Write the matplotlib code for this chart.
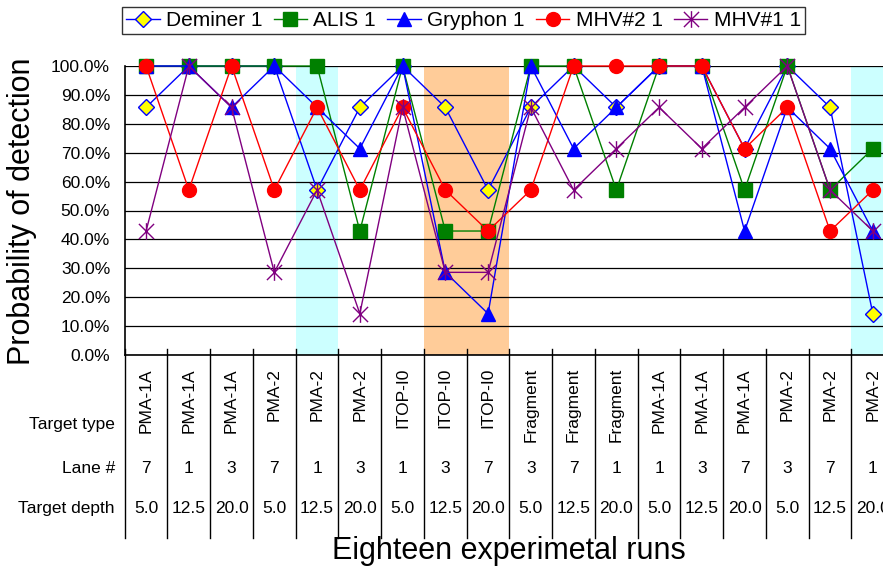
import numpy as np
import matplotlib
matplotlib.use("Agg")
import matplotlib.pyplot as plt
import matplotlib.transforms as mtransforms
from matplotlib.path import Path
from matplotlib.lines import Line2D

plt.rcParams['font.family'] = ['Liberation Sans', 'DejaVu Sans']

# probability of detection (%) for each of the 18 runs
deminer = [85.7, 100, 100, 100, 57.1, 85.7, 100, 85.7, 57.1, 85.7, 100, 85.7, 100, 100, 71.4, 100, 85.7, 14.3]
alis = [100, 100, 100, 100, 100, 42.9, 100, 42.9, 42.9, 100, 100, 57.1, 100, 100, 57.1, 100, 57.1, 71.4]
gryphon = [100, 100, 85.7, 100, 85.7, 71.4, 100, 28.6, 14.3, 100, 71.4, 85.7, 100, 100, 42.9, 85.7, 71.4, 42.9]
mhv2 = [100, 57.1, 100, 57.1, 85.7, 57.1, 85.7, 57.1, 42.9, 57.1, 100, 100, 100, 100, 71.4, 85.7, 42.9, 57.1]
mhv1 = [42.9, 100, 85.7, 28.6, 57.1, 14.3, 85.7, 28.6, 28.6, 85.7, 57.1, 71.4, 85.7, 71.4, 85.7, 100, 57.1, 42.9]

target_type = ["PMA-1A", "PMA-1A", "PMA-1A", "PMA-2", "PMA-2", "PMA-2",
               "ITOP-I0", "ITOP-I0", "ITOP-I0", "Fragment", "Fragment", "Fragment",
               "PMA-1A", "PMA-1A", "PMA-1A", "PMA-2", "PMA-2", "PMA-2"]
lane = ["7", "1", "3", "7", "1", "3", "1", "3", "7", "3", "7", "1", "1", "3", "7", "3", "7", "1"]
depth = ["5.0", "12.5", "20.0"] * 6

cyan_runs = [5, 18]
orange_runs = [8, 9]

W, H = 883, 572
fig = plt.figure(figsize=(W / 100, H / 100), dpi=100)
ax = fig.add_axes([124.7 / W, 1 - 355 / H, 769.5 / W, 289 / H])

x = np.arange(len(deminer)) + 0.5

for r in cyan_runs:
    ax.axvspan(r - 1, r, color='#CCFFFF', lw=0, zorder=0)
for r in orange_runs:
    ax.axvspan(r - 1, r, color='#FFCC99', lw=0, zorder=0)

star = Path([(-1, -1), (1, 1), (-1, 1), (1, -1), (0, -1.1), (0, 1.1)],
            [Path.MOVETO, Path.LINETO] * 3)

ax.plot(x, deminer, color='#0000FF', lw=1, marker='D', ms=8.5, mfc='#FFFF00', mec='#0000FF',
        mew=1, label='Deminer 1', clip_on=False, zorder=3)
ax.plot(x, alis, color='#008000', lw=1, marker='s', ms=9.5, mfc='#008000', mec='#008000',
        label='ALIS 1', clip_on=False, zorder=3)
ax.plot(x, gryphon, color='#0000FF', lw=1, marker='^', ms=10, mfc='#0000FF', mec='#0000FF',
        label='Gryphon 1', clip_on=False, zorder=3)
ax.plot(x, mhv2, color='#FF0000', lw=1, marker='o', ms=10, mfc='#FF0000', mec='#FF0000',
        label='MHV#2 1', clip_on=False, zorder=3)
ax.plot(x, mhv1, color='#800080', lw=1, marker=star, ms=12, mfc='none', mec='#800080',
        mew=1, label='MHV#1 1', clip_on=False, zorder=3)

ax.set_xlim(0, 18)
ax.set_ylim(0, 100)
ax.set_yticks(np.arange(0, 101, 10))
ax.set_yticklabels([f"{v:.1f}%" for v in np.arange(0, 101, 10)])
ax.set_xticks([])
ax.tick_params(axis='y', length=0, pad=10.5, labelsize=12.5)
ax.set_axisbelow(True)
ax.grid(axis='y', color='black', lw=0.9)
for s in ['top', 'right']:
    ax.spines[s].set_visible(False)
ax.spines['left'].set_linewidth(1.2)
ax.spines['bottom'].set_linewidth(1.2)

fig.text(7 / W, 1 - 211 / H, "Probability of detection", rotation=90,
         ha='left', va='center', fontsize=22)

# table under the plot
trans = mtransforms.blended_transform_factory(ax.transData, fig.transFigure)
for b in range(19):
    ax.add_line(Line2D([b, b], [1 - 349 / H, 1 - 538 / H], transform=trans,
                       color='black', lw=1, clip_on=False))
for i in range(18):
    ax.text(x[i], 1 - 368 / H, target_type[i], rotation=90, ha='center', va='top',
            fontsize=12.5, transform=trans)
    ax.text(x[i], 1 - 473 / H, lane[i], ha='center', va='baseline', fontsize=12.5, transform=trans)
    ax.text(x[i], 1 - 513 / H, depth[i], ha='center', va='baseline', fontsize=12.5, transform=trans)

fig.text(115 / W, 1 - 429 / H, "Target type", ha='right', va='baseline', fontsize=12.5)
fig.text(115 / W, 1 - 473 / H, "Lane #", ha='right', va='baseline', fontsize=12.5)
fig.text(115 / W, 1 - 513 / H, "Target depth", ha='right', va='baseline', fontsize=12.5)

fig.text(509 / W, 1 - 559 / H, "Eighteen experimetal runs", ha='center', va='baseline', fontsize=22)

leg = ax.legend(loc='upper left', bbox_to_anchor=(122 / W, 1 - 7 / H), bbox_transform=fig.transFigure,
                ncol=5, fontsize=15, frameon=True, fancybox=False, borderaxespad=0,
                handlelength=1.6, handletextpad=0.3, columnspacing=0.55, borderpad=0.2)
leg.get_frame().set_edgecolor('black')
leg.get_frame().set_linewidth(1)

fig.savefig("out.png", dpi=100)
